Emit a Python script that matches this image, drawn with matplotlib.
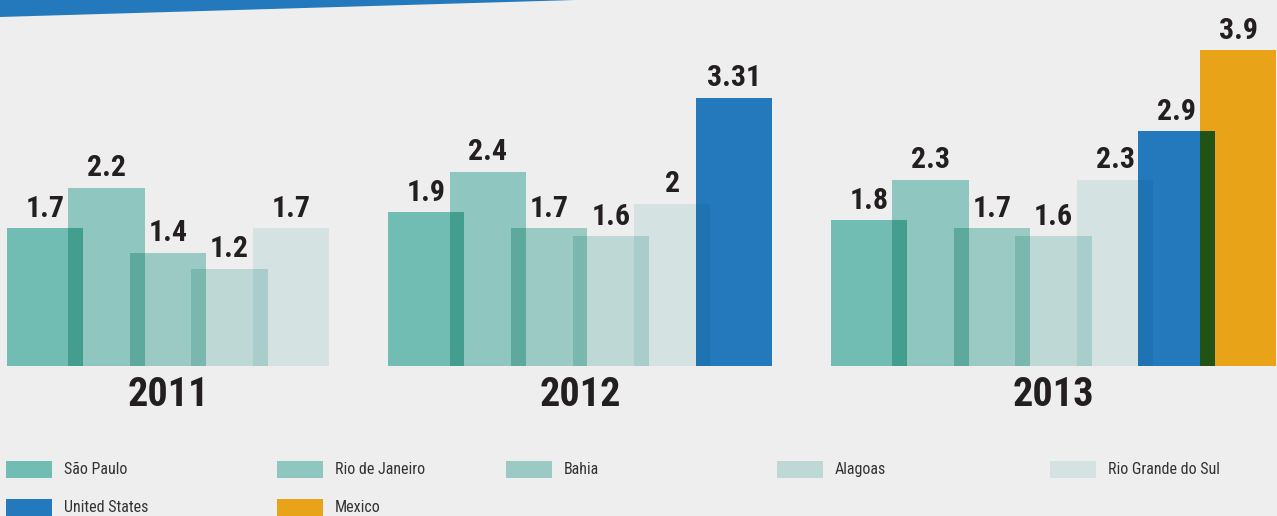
import matplotlib
matplotlib.use("Agg")
import matplotlib.pyplot as plt
from matplotlib.patches import Polygon, Rectangle
from matplotlib import font_manager as fm
import numpy as np

years = ["2011", "2012", "2013"]
series = ["São Paulo", "Rio de Janeiro", "Bahia", "Alagoas", "Rio Grande do Sul",
          "United States", "Mexico"]
sao_paulo = [1.7, 1.9, 1.8]
rio_de_janeiro = [2.2, 2.4, 2.3]
bahia = [1.4, 1.7, 1.7]
alagoas = [1.2, 1.6, 1.6]
rio_grande_do_sul = [1.7, 2.0, 2.3]
united_states = [None, 3.31, 2.9]
mexico = [None, None, 3.9]
value_labels = {
    "2011": ["1.7", "2.2", "1.4", "1.2", "1.7"],
    "2012": ["1.9", "2.4", "1.7", "1.6", "2", "3.31"],
    "2013": ["1.8", "2.3", "1.7", "1.6", "2.3", "2.9", "3.9"],
}
colors = ["#71bdb3", "#8fc7c0", "#9acac3", "#bdd8d5", "#d4e2e2", "#2479bd", "#e8a319"]
BG = "#eeeeee"

all_series = [sao_paulo, rio_de_janeiro, bahia, alagoas, rio_grande_do_sul,
              united_states, mexico]

avail = {f.name for f in fm.fontManager.ttflist}
def pick(cands):
    out = [c for c in cands if c in avail]
    return out + ["DejaVu Sans"]
bold_fam = pick(["Liberation Sans Narrow", "Roboto Condensed", "DejaVu Sans Condensed", "Open Sans Condensed"])
reg_fam = pick(["Liberation Sans Narrow", "Roboto Condensed", "DejaVu Sans Condensed"])

W, H = 1277, 516
fig = plt.figure(figsize=(W / 100, H / 100), dpi=100, facecolor=BG)
ax = fig.add_axes([0, 0, 1, 1])
ax.set_facecolor(BG)

step_px = 61.5
ppu = 81.0
base_px = 366
first_px = 45
ax.set_xlim(-first_px / step_px, (W - first_px) / step_px)
ax.set_ylim(-(H - base_px) / ppu, base_px / ppu)
ax.axis("off")

bar_w = 1.24
group_gap = 2.2

def mult(c1, c2):
    a = np.array(matplotlib.colors.to_rgb(c1))
    b = np.array(matplotlib.colors.to_rgb(c2))
    bg = np.array(matplotlib.colors.to_rgb(BG))
    return tuple(np.clip(a * b / bg, 0, 1))

x = 0.0
for gi, yr in enumerate(years):
    items = [(si, s[gi]) for si, s in enumerate(all_series) if s[gi] is not None]
    xs = []
    for k, (si, v) in enumerate(items):
        xs.append(x)
        ax.bar(x, v, width=bar_w, color=colors[si], linewidth=0, zorder=2)
        ax.annotate(value_labels[yr][k], (x, v), xytext=(0, 4), textcoords="offset points",
                    ha="center", va="bottom", fontsize=21.5, fontweight="bold",
                    family=bold_fam, color="#231f20", zorder=5)
        x += 1
    for k in range(len(items) - 1):
        si, v = items[k]
        sj, u = items[k + 1]
        ax.bar((xs[k] + xs[k + 1]) / 2, min(v, u), width=bar_w - 1,
               color=mult(colors[si], colors[sj]), linewidth=0, zorder=3)
    ax.text((xs[0] + xs[-1]) / 2, -29 / ppu, yr, ha="center", va="center",
            fontsize=29, fontweight="bold", family=bold_fam, color="#231f20")
    x = xs[-1] + group_gap

# top banner
fig.patches.append(Polygon([(0, 1), (575 / W, 1), (0, 1 - 17 / H)], closed=True,
                           transform=fig.transFigure, facecolor="#2479bd",
                           edgecolor="none"))

# legend
col_x = [6, 277, 506, 777, 1050, 6, 277]
row_y = [469.5, 469.5, 469.5, 469.5, 469.5, 507.5, 507.5]
for i, name in enumerate(series):
    x0 = col_x[i]
    yc = row_y[i]
    fig.patches.append(Rectangle((x0 / W, 1 - (yc + 8.5) / H), 46 / W, 17 / H,
                                 transform=fig.transFigure, facecolor=colors[i],
                                 edgecolor="none"))
    fig.text((x0 + 58) / W, 1 - yc / H, name, ha="left", va="center",
             fontsize=11.5, family=reg_fam, color="#333333")

fig.savefig("out.png", dpi=100, facecolor=BG)
